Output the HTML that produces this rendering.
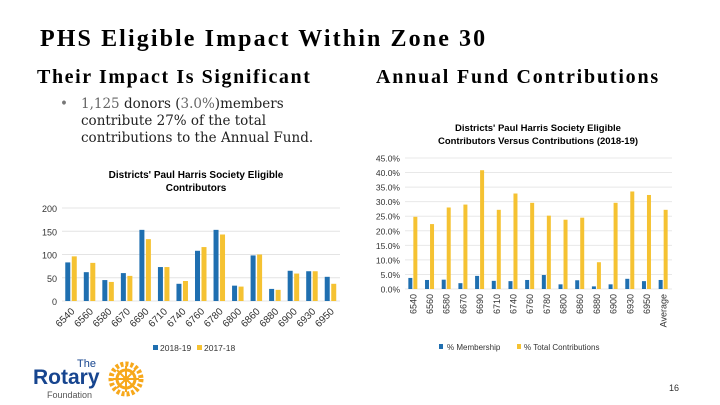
<!DOCTYPE html>
<html><head><meta charset="utf-8"><style>
body{margin:0;width:720px;height:405px;background:#fff;overflow:hidden;position:relative;font-family:"Liberation Sans",sans-serif}
.t{position:absolute;font-family:"Liberation Serif",serif;font-weight:bold;color:#000;white-space:nowrap}
</style></head><body>
<div class="t" style="left:40px;top:26px;font-size:24px;letter-spacing:2.1px">PHS Eligible Impact Within Zone 30</div>
<div class="t" style="left:37px;top:66px;font-size:20px;letter-spacing:1.6px">Their Impact Is Significant</div>
<div class="t" style="left:376px;top:66px;font-size:20px;letter-spacing:1.8px">Annual Fund Contributions</div>
<div style="position:absolute;left:64px;top:96px;font-family:'DejaVu Serif',serif;font-size:13.5px;line-height:17px;color:#222;width:290px"><span style="position:absolute;left:-4px;color:#777">•</span><div style="padding-left:17px"><span style="color:#666">1,125</span> donors (<span style="color:#666">3.0%</span>)members contribute 27% of the total contributions to the Annual Fund.</div></div>
<svg id="c" width="720" height="405" style="position:absolute;left:0;top:0"></svg>
<div style="position:absolute;left:33px;top:358px;width:130px;height:42px">
<div style="position:absolute;left:44px;top:0;font-size:11px;color:#17458f">The</div>
<div style="position:absolute;left:0;top:8px;font-size:21px;font-weight:bold;color:#17458f">Rotary</div>
<div style="position:absolute;left:14px;top:32px;font-size:9px;color:#555">Foundation</div>
<svg style="position:absolute;left:74px;top:2px" width="38" height="38"><circle cx="19" cy="19" r="15" fill="none" stroke="#f7a81b" stroke-width="5" stroke-dasharray="3 2"/><circle cx="19" cy="19" r="9" fill="none" stroke="#f7a81b" stroke-width="3"/><circle cx="19" cy="19" r="3" fill="#f7a81b"/><path d="M19 6V32M6 19H32M10 10L28 28M28 10L10 28" stroke="#f7a81b" stroke-width="2"/></svg>
</div>
<div style="position:absolute;left:669px;top:383px;font-size:9px;color:#333">16</div>
<script>
const cats1=["6540","6560","6580","6670","6690","6710","6740","6760","6780","6800","6860","6880","6900","6930","6950"];
const s2018=[83,62,45,60,153,73,37,108,153,33,98,26,65,64,52];
const s2017=[96,82,41,54,133,73,43,116,143,31,100,24,59,64,37];
const ticks1=[0,50,100,150,200];
const cats2=["6540","6560","6580","6670","6690","6710","6740","6760","6780","6800","6860","6880","6900","6930","6950","Average"];
const memb=[3.8,3.1,3.2,2.0,4.5,2.8,2.7,3.1,4.8,1.6,3.0,0.9,1.6,3.5,2.7,3.1];
const contrib=[24.8,22.3,28.0,29.0,40.8,27.2,32.8,29.6,25.2,23.8,24.5,9.2,29.6,33.5,32.3,27.2];
const ticks2=[0,5,10,15,20,25,30,35,40,45];
const svg=document.getElementById('c');const NS='http://www.w3.org/2000/svg';
function mk(t,a,txt){const e=document.createElementNS(NS,t);for(const k in a)e.setAttribute(k,a[k]);if(txt!=null)e.textContent=txt;svg.appendChild(e);return e;}
const B='#1f6fb0',Y='#f5c232';
// chart 1
const x0=62,x1=340,yb=301,yt=208;
const y1=v=>yb-(v/200)*(yb-yt);const w1=(x1-x0)/cats1.length;
let e=mk('text',{x:196,y:178,'font-size':10,'font-weight':'bold','text-anchor':'middle'},"Districts' Paul Harris Society Eligible");

e=mk('text',{x:196,y:191,'font-size':10,'font-weight':'bold','text-anchor':'middle'},"Contributors");

ticks1.forEach(t=>{e=mk('line',{x1:x0,x2:x1,y1:y1(t),y2:y1(t),stroke:'#e4e4e4'});
e=mk('text',{x:57,y:y1(t)+4,'font-size':9,'text-anchor':'end',fill:'#333'},t);});
cats1.forEach((c,i)=>{const cx=x0+w1*(i+0.5);
e=mk('rect',{x:cx-6,y:y1(s2018[i]),width:5,height:yb-y1(s2018[i]),fill:B});
e=mk('rect',{x:cx+0.5,y:y1(s2017[i]),width:5,height:yb-y1(s2017[i]),fill:Y});
e=mk('text',{x:cx+4,y:yb+11,'font-size':10,'text-anchor':'end',fill:'#333',transform:`rotate(-45 ${cx+4} ${yb+11})`},c);});
e=mk('rect',{x:153,y:345,width:5,height:5,fill:B});
e=mk('text',{x:160,y:351,'font-size':8.5,fill:'#333'},'2018-19');
e=mk('rect',{x:197,y:345,width:5,height:5,fill:Y});
e=mk('text',{x:204,y:351,'font-size':8.5,fill:'#333'},'2017-18');
// chart 2
const X0=405,X1=672,Yb=289,Yt=158;
const y2=v=>Yb-(v/45)*(Yb-Yt);const w2=(X1-X0)/cats2.length;
e=mk('text',{x:538,y:131,'font-size':9.5,'font-weight':'bold','text-anchor':'middle'},"Districts' Paul Harris Society Eligible");
e=mk('text',{x:538,y:144,'font-size':9.5,'font-weight':'bold','text-anchor':'middle'},"Contributors Versus Contributions (2018-19)");
ticks2.forEach(t=>{e=mk('line',{x1:X0,x2:X1,y1:y2(t),y2:y2(t),stroke:'#e8e8e8'});
e=mk('text',{x:400,y:y2(t)+3.5,'font-size':8.5,'text-anchor':'end',fill:'#333'},t.toFixed(1)+'%');});
cats2.forEach((c,i)=>{const cx=X0+w2*(i+0.5);
e=mk('rect',{x:cx-5,y:y2(memb[i]),width:4,height:Yb-y2(memb[i]),fill:B});
e=mk('rect',{x:cx,y:y2(contrib[i]),width:4,height:Yb-y2(contrib[i]),fill:Y});
e=mk('text',{x:cx+3,y:Yb+5,'font-size':9,'text-anchor':'end',fill:'#333',transform:`rotate(-90 ${cx+3} ${Yb+5})`},c);});
e=mk('rect',{x:439,y:344,width:4,height:5,fill:B});
e=mk('text',{x:447,y:350,'font-size':8,fill:'#333'},'% Membership');
e=mk('rect',{x:517,y:344,width:4,height:5,fill:Y});
e=mk('text',{x:524,y:350,'font-size':8,fill:'#333'},'% Total Contributions');
</script>
</body></html>
